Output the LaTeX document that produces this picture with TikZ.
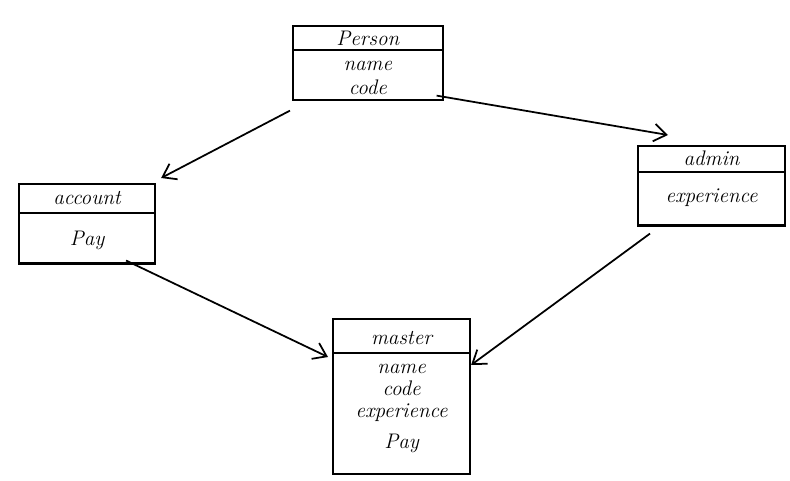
\documentclass[tikz,border=0pt]{standalone}
\usetikzlibrary{shapes.multipart,arrows.meta}
\tikzset{
classbox/.style={
	draw, line width=1.2pt, rectangle split, rectangle split parts=2,
	font=\itshape\large, align=center, text width=#1, inner sep=2pt,
	anchor=north west},
assoc/.style={line width=1pt, -{Straight Barb[length=2.5mm,width=3.5mm]}}
}
% strut of given height and depth
\newcommand{\spc}[2]{\rule[-#2]{0pt}{\dimexpr#1+#2\relax}}

\begin{document}
\begin{tikzpicture}[x=0.02cm, y=-0.02cm]
	\useasboundingbox (0,0) rectangle (790,480);
	\node[classbox=2.85cm] (person) at (292,25)
		{Person\nodepart{second}\spc{9pt}{0pt}name\\code};
	\node[classbox=2.58cm] (account) at (18,183)
		{\spc{9pt}{2.3pt}account\nodepart{second}\spc{16pt}{7.5pt}Pay};
	\node[classbox=2.8cm] (admin) at (637,145)
		{\spc{8pt}{1pt}admin\nodepart{second}\spc{15pt}{10.5pt}experience};
	\node[classbox=2.6cm] (master) at (332,318)
		{\spc{12pt}{2pt}master\nodepart{second}\spc{9pt}{0pt}name\\[-1.5pt]code\\[-1.5pt]experience\\[4pt]Pay\spc{0pt}{12pt}};
	\draw[assoc] ([xshift=-0.04cm,yshift=-0.2cm]person.south west) -- ([xshift=0.1cm,yshift=0.1cm]account.north east);
	\draw[assoc] ([xshift=-0.14cm,yshift=0.1cm]person.south east) -- ([xshift=0.62cm,yshift=0.2cm]admin.north west);
	\draw[assoc] ([xshift=0.78cm,yshift=0.08cm]account.south) -- ([xshift=-0.08cm,yshift=-0.78cm]master.north west);
	\draw[assoc] ([xshift=0.26cm,yshift=-0.14cm]admin.south west) -- ([yshift=-0.94cm]master.north east);
\end{tikzpicture}
\end{document}
